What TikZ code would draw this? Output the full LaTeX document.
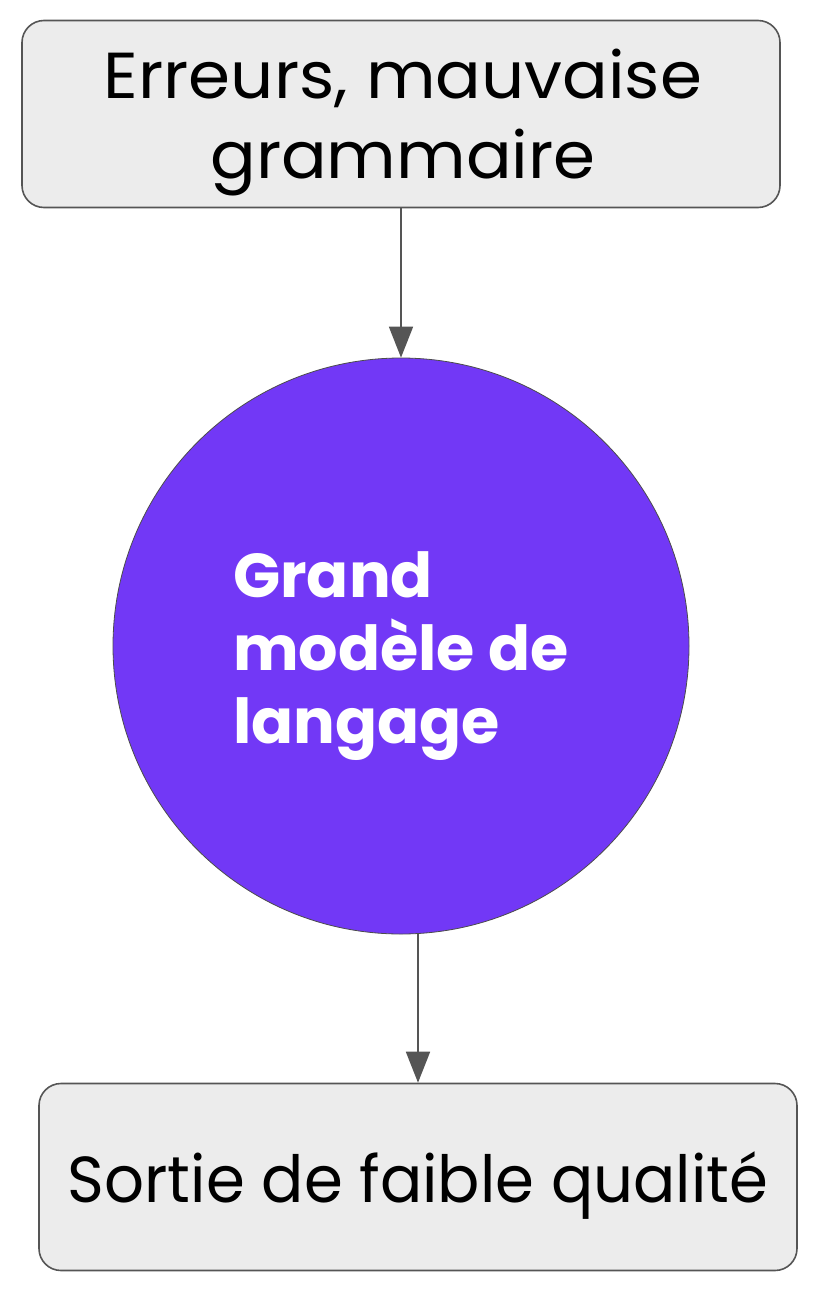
\documentclass[tikz,border=0pt]{standalone}
\usepackage{fontspec}
\setmainfont{Poppins}
\usetikzlibrary{arrows.meta}
\definecolor{boxfill}{HTML}{ECECEC}
\definecolor{boxline}{HTML}{555555}
\definecolor{llmpurple}{HTML}{7238F6}
\tikzset{
  x=1pt, y=-1pt,
  graybox/.style={draw=boxline, line width=1.6pt, fill=boxfill, rounded corners=22pt,
    minimum width=758pt, minimum height=187pt, inner sep=0pt},
  boxtext/.style={align=center, inner sep=0pt, font=\fontsize{65}{80}\selectfont},
  llm/.style={circle, draw=black!70, line width=0.8pt, fill=llmpurple, minimum size=576pt,
    inner sep=0pt},
  llmtext/.style={align=left, inner sep=0pt, text=white, font=\fontsize{62}{73}\selectfont\bfseries},
  flow/.style={draw=boxline, line width=1.8pt, -{Triangle[length=31pt,width=24pt]}},
}
\begin{document}
\begin{tikzpicture}
\useasboundingbox (0,0) rectangle (816,1298);
\fill[white] (0,0) rectangle (816,1298);
\node[graybox] (top) at (401,114) {};
\node[boxtext, anchor=base] (toptext) at (403,178) {\scalebox{1.04}[1]{Erreurs, mauvaise}\\\scalebox{1.04}[1]{grammaire}};
\node[llm] (llm) at (401,646) {};
\node[llmtext, anchor=base west] (llmtext) at (233,743) {Grand\\modèle de\\langage};
\node[graybox] (bot) at (418,1177) {};
\node[boxtext, anchor=base] (bottext) at (418,1202) {\scalebox{0.963}[1]{Sortie de faible qualité}};
\draw[flow] (top.south) -- (llm.north);
\draw[flow] (llm.south -| bot.north) -- (bot.north);
\end{tikzpicture}
\end{document}
